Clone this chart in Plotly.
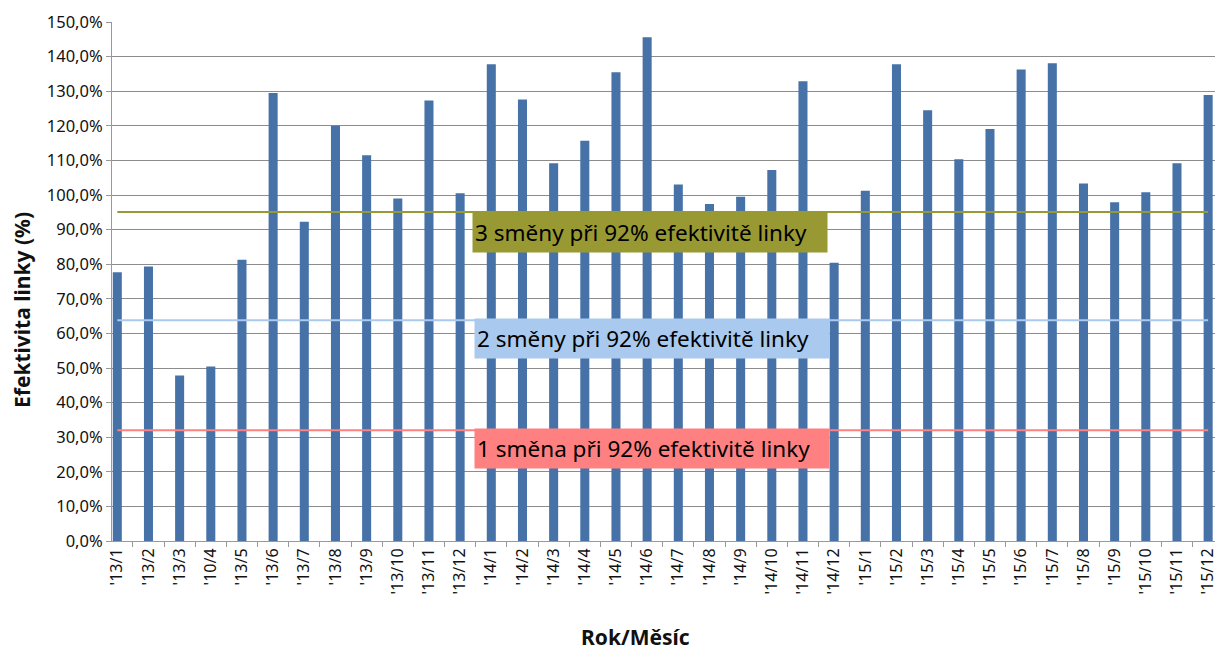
import plotly.graph_objects as go

months = ["'13/1", "'13/2", "'13/3", "'10/4", "'13/5", "'13/6", "'13/7", "'13/8", "'13/9", "'13/10", "'13/11", "'13/12",
          "'14/1", "'14/2", "'14/3", "'14/4", "'14/5", "'14/6", "'14/7", "'14/8", "'14/9", "'14/10", "'14/11", "'14/12",
          "'15/1", "'15/2", "'15/3", "'15/4", "'15/5", "'15/6", "'15/7", "'15/8", "'15/9", "'15/10", "'15/11", "'15/12"]
efficiency = [77.7, 79.3, 47.8, 50.4, 81.3, 129.5, 92.3, 120.0, 111.5, 99.0, 127.3, 100.5,
              137.8, 127.6, 109.2, 115.7, 135.5, 145.6, 103.0, 97.4, 99.5, 107.2, 132.9, 80.4,
              101.2, 137.8, 124.5, 110.3, 119.1, 136.3, 138.1, 103.3, 97.9, 100.8, 109.2, 128.9]
shift3_level = 95.1
shift2_level = 63.8
shift1_level = 32.0
shift_labels = ["3 směny při 92% efektivitě linky", "2 směny při 92% efektivitě linky", "1 směna při 92% efektivitě linky"]
y_tickvals = [0, 10, 20, 30, 40, 50, 60, 70, 80, 90, 100, 110, 120, 130, 140, 150]
y_ticktext = ["0,0%", "10,0%", "20,0%", "30,0%", "40,0%", "50,0%", "60,0%", "70,0%", "80,0%", "90,0%",
              "100,0%", "110,0%", "120,0%", "130,0%", "140,0%", "150,0%"]

FONT = "Noto Sans"
olive = "#999933"
lightblue = "#a9caee"
salmon = "#ff8080"

W, H = 1219, 650
ML, MR, MT, MB = 112, 4, 22, 109
PW, PH = W - ML - MR, H - MT - MB

fig = go.Figure()
fig.add_trace(go.Bar(x=months, y=efficiency, marker=dict(color="#4672a8", line=dict(width=0)),
                     width=0.29, showlegend=False))
for lvl, col in [(shift3_level, olive), (shift2_level, lightblue), (shift1_level, salmon)]:
    fig.add_trace(go.Scatter(x=months, y=[lvl] * len(months), mode="lines",
                             line=dict(color=col, width=2), showlegend=False, hoverinfo="skip"))

box_specs = [(shift_labels[0], olive, 89.2, 17.1), (shift_labels[1], lightblue, 58.6, 17.15), (shift_labels[2], salmon, 26.6, 17.15)]
for text, col, yc, xc in box_specs:
    fig.add_annotation(x=xc, y=yc, xref="x", yref="y", text=text, showarrow=False,
                       bgcolor=col, width=350, height=35, align="left", borderpad=2,
                       font=dict(family=FONT, size=22.5, color="black"))

fig.add_annotation(x=(22 - ML) / PW, y=1 - (310 - MT) / PH, xref="paper", yref="paper",
                   xanchor="center", yanchor="middle",
                   text="<b>Efektivita linky (%)</b>", textangle=-90, showarrow=False,
                   font=dict(family=FONT, size=21, color="#111"))
fig.add_annotation(x=(635 - ML) / PW, y=1 - (637 - MT) / PH, xref="paper", yref="paper",
                   xanchor="center", yanchor="middle",
                   text="<b>Rok/Měsíc</b>", showarrow=False,
                   font=dict(family=FONT, size=21, color="#111"))

fig.update_layout(
    width=W, height=H,
    margin=dict(l=ML, r=MR, t=MT, b=MB),
    plot_bgcolor="white", paper_bgcolor="white",
    bargap=0.7,
    font=dict(family=FONT, size=16, color="#111"),
    xaxis=dict(type="category", range=[-0.17, 35.22], tickangle=-90, showgrid=False, automargin=False,
               showline=True, linecolor="#999", linewidth=1, ticks="outside", tickson="boundaries",
               ticklen=5, tickcolor="#999", tickfont=dict(family=FONT, size=16, color="#111")),
    yaxis=dict(range=[0, 150], tickvals=y_tickvals, ticktext=y_ticktext, showgrid=True, automargin=False,
               gridcolor="#8c8c8c", gridwidth=1, showline=True, linecolor="#999", linewidth=1,
               ticks="outside", ticklen=5, tickcolor="#999", zeroline=False,
               tickfont=dict(family=FONT, size=16.5, color="#111")),
)
fig.write_html("out.html", config={"displayModeBar": False},
               post_script="document.body.style.margin='0';document.body.style.overflow='hidden';")
